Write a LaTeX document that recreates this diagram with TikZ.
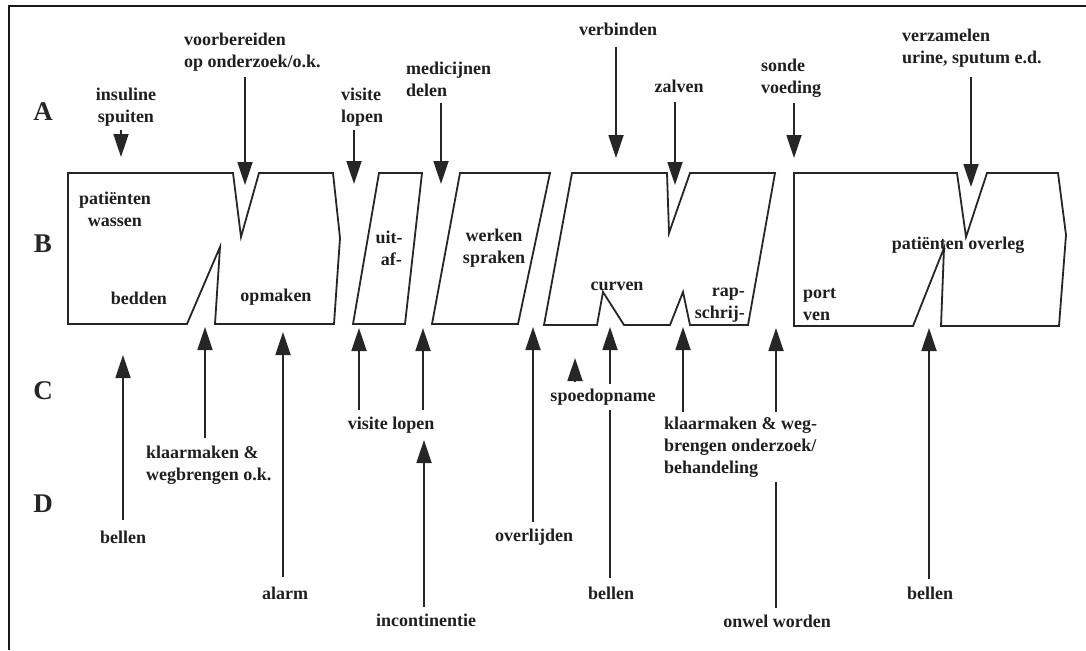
\documentclass[tikz,border=0pt]{standalone}
\usepackage{fontspec}
\setmainfont{Liberation Serif}
\usetikzlibrary{arrows.meta}
\begin{document}
\begin{tikzpicture}[x=1pt,y=-1pt,
  outline/.style={draw=black!85, line width=1.8pt, line join=miter},
  arr/.style={draw=black!85, line width=1.8pt, -{Triangle[length=23pt,width=15pt]}},
  lbl/.style={font=\bfseries\fontsize{18}{22}\selectfont, text=black!88, inner sep=1pt},
  rowlbl/.style={font=\bfseries\fontsize{27}{30}\selectfont, text=black!85, inner sep=0pt},
  mask/.style={fill=white, inner sep=5pt}]
\useasboundingbox (0,0) rectangle (1086,650);
\fill[white] (0,0) rectangle (1086,650);

% frame
\draw[line width=2.6pt, black!90] (9,650) -- (9,6) -- (1086,6);

% row letters
\node[rowlbl] (rA) at (43,112) {A};
\node[rowlbl] (rB) at (43,244) {B};
\node[rowlbl] (rC) at (43,391) {C};
\node[rowlbl] (rD) at (43,504) {D};

% the five letter blocks
\draw[outline] (68,173) -- (233,173) -- (241,237) -- (259,173) -- (333,173)
  -- (340,238) -- (334,324) -- (215,324) -- (220,247) -- (187,324) -- (68,324) -- cycle;
\draw[outline] (379,173) -- (422,173) -- (405,324) -- (353,324) -- cycle;
\draw[outline] (460,173) -- (550,173) -- (518,324) -- (432,324) -- cycle;
\draw[outline] (572,173) -- (667,173) -- (669,233) -- (690,173) -- (775,173)
  -- (748,325) -- (690,325) -- (683,292) -- (670,325) -- (624,325) -- (603,292)
  -- (597,325) -- (544,325) -- cycle;
\draw[outline] (794,173) -- (957,173) -- (966,237) -- (987,173) -- (1058,173)
  -- (1066,235) -- (1059,326) -- (941,326) -- (944,248) -- (913,326) -- (794,326) -- cycle;

% texts inside the blocks
\node[lbl, align=center] (wassen) at (115,209) {patiënten\\wassen};
\node[lbl] (bedden) at (139,298) {bedden};
\node[lbl] (opmaken) at (276,297) {opmaken};
\node[lbl, align=center] (uitaf) at (389,248) {uit-\\\ af-};
\node[lbl, align=center] (werken) at (494,248) {werken\\spraken};
\node[lbl] (curven) at (617,286) {curven};
\node[lbl, align=right, anchor=east] (rap) at (746,305) {rap-\\schrij-};
\node[lbl, align=left, anchor=west] (port) at (802,305) {port\\ven};
\node[lbl] (overleg) at (958,245) {patiënten overleg};

% tasks from above
\node[lbl, align=center] (insuline) at (126,107) {insuline\\spuiten};
\node[lbl, align=left, anchor=west] (voorb) at (183,52) {voorbereiden\\op onderzoek/o.k.};
\node[lbl, align=left, anchor=west] (visiteA) at (340,107) {visite\\lopen};
\node[lbl, align=left, anchor=west] (medic) at (405,79) {medicijnen\\delen};
\node[lbl] (verbind) at (618,29) {verbinden};
\node[lbl] (zalven) at (679,86) {zalven};
\node[lbl, align=left, anchor=west] (sonde) at (760,78) {sonde\\voeding};
\node[lbl, align=left, anchor=west] (verzam) at (901,48) {verzamelen\\urine, sputum e.d.};

\coordinate (a1s) at (121,130); \coordinate (a1t) at (121,157);
\coordinate (a2s) at (245,77);  \coordinate (a2t) at (245,185);
\coordinate (a3s) at (354,130); \coordinate (a3t) at (354,184);
\coordinate (a4s) at (441,103); \coordinate (a4t) at (441,184);
\coordinate (a5s) at (616,47);  \coordinate (a5t) at (616,158);
\coordinate (a6s) at (675,102); \coordinate (a6t) at (675,185);
\coordinate (a7s) at (794,103); \coordinate (a7t) at (794,158);
\coordinate (a8s) at (971,77);  \coordinate (a8t) at (971,187);
\foreach \i in {1,...,8} \draw[arr] (a\i s) -- (a\i t);

% events from below
\coordinate (b1s) at (123,520);  \coordinate (b1t) at (123,355);
\coordinate (b2s) at (205,438);  \coordinate (b2t) at (205,327);
\coordinate (b3s) at (283,577);  \coordinate (b3t) at (283,332);
\coordinate (b4s) at (359,410);  \coordinate (b4t) at (359,328);
\coordinate (b5s) at (423,410);  \coordinate (b5t) at (423,328);
\coordinate (b6s) at (424,607);  \coordinate (b6t) at (424,440);
\coordinate (b7s) at (533,522);  \coordinate (b7t) at (533,327);
\coordinate (b8s) at (575,382);  \coordinate (b8t) at (575,358);
\coordinate (b9s) at (610,578);  \coordinate (b9t) at (610,327);
\coordinate (b10s) at (683,412); \coordinate (b10t) at (683,327);
\coordinate (b11s) at (776,608); \coordinate (b11t) at (776,328);
\coordinate (b12s) at (929,579); \coordinate (b12t) at (929,328);
\foreach \i in {1,...,12} \draw[arr] (b\i s) -- (b\i t);

\node[lbl] (bellen1) at (123,537) {bellen};
\node[lbl, align=left, anchor=west] (klaarok) at (145,465) {klaarmaken \&\\wegbrengen o.k.};
\node[lbl] (alarm) at (285,593) {alarm};
\node[lbl] (visiteB) at (391,425) {visite lopen};
\node[lbl] (incont) at (426,620) {incontinentie};
\node[lbl] (overl) at (534,537) {overlijden};
\node[lbl, mask] (spoed) at (603,397) {spoedopname};
\node[lbl] (bellen2) at (611,593) {bellen};
\node[lbl, mask, align=left, anchor=west] (klaarond) at (659,447)
  {klaarmaken \& weg-\\brengen onderzoek/\\behandeling};
\node[lbl] (onwel) at (777,621) {onwel worden};
\node[lbl] (bellen3) at (930,593) {bellen};
\end{tikzpicture}
\end{document}
